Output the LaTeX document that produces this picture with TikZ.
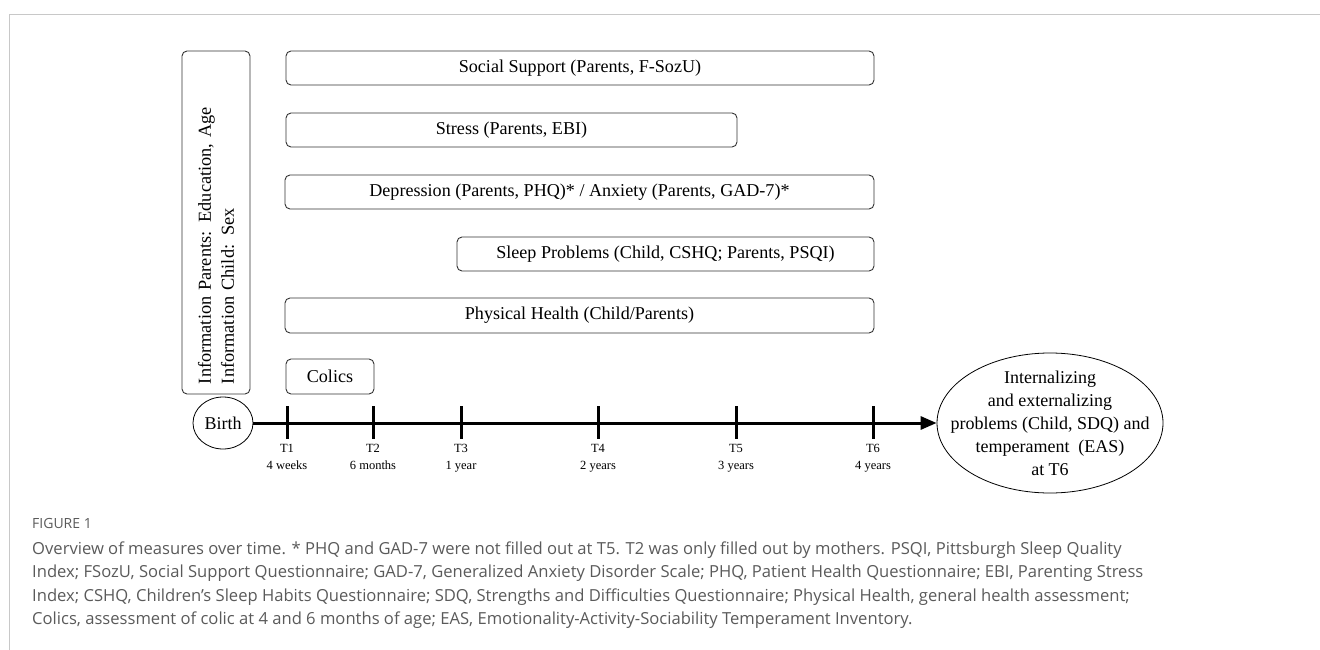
\documentclass[tikz,border=0pt]{standalone}
\usepackage{fontspec}
\setmainfont{Liberation Serif}
\newfontfamily\capfont{Open Sans}
\usetikzlibrary{arrows.meta,shapes.geometric}
\definecolor{framegray}{HTML}{C8C8C8}
\definecolor{capgray}{HTML}{5A5A5A}
\definecolor{boxline}{HTML}{333333}
\begin{document}
\begin{tikzpicture}[x=1pt,y=-1pt,
  measure/.style={draw=boxline,line width=0.9pt,rounded corners=5pt,inner sep=0pt,
     font=\fontsize{18.1}{23}\selectfont},
  timept/.style={ellipse,draw=black,line width=0.8pt,inner sep=-30pt,
     font=\fontsize{18}{23}\selectfont,align=center},
  tick/.style={line width=3pt},
  tlabel/.style={font=\fontsize{12.5}{17}\selectfont,align=center,inner sep=0pt},
  capline/.style={anchor=base west,inner sep=0pt,text=capgray,
     font=\capfont\fontsize{16.6}{18}\selectfont}
]
\useasboundingbox (0,0) rectangle (1320,650);
% frame
\draw[framegray,line width=1.2pt] (9.3,650) -- (9.3,14.3) -- (1320,14.3);

% info box
\node[measure,rotate=90,minimum width=343pt,minimum height=68pt,text width=323pt,
      inner xsep=10pt,align=left,font=\fontsize{18.3}{23}\selectfont] (info) at (216,222.5)
  {Information Parents: Education, Age\\Information Child: Sex};

% measure boxes
\node[measure,minimum width=588pt,minimum height=34pt] (social) at (580,68)
  {Social Support (Parents, F-SozU)};
\node[measure,minimum width=451pt,minimum height=34pt] (stress) at (511.5,130)
  {Stress (Parents, EBI)};
\node[measure,minimum width=589pt,minimum height=34pt] (depr) at (579.5,192)
  {Depression (Parents, PHQ)* / Anxiety (Parents, GAD-7)*};
\node[measure,minimum width=417pt,minimum height=34pt] (sleep) at (665.5,254)
  {Sleep Problems (Child, CSHQ; Parents, PSQI)};
\node[measure,minimum width=589pt,minimum height=35pt] (health) at (579.5,315.5)
  {Physical Health (Child/Parents)};
\node[measure,minimum width=88pt,minimum height=35pt] (colics) at (330,376.5)
  {Colics};

% timeline
\node[timept,minimum width=60pt,minimum height=52pt] (birth) at (223,423) {Birth};
\node[timept,minimum width=226pt,minimum height=140pt] (outcome) at (1050,423)
  {Internalizing\\and externalizing\\problems (Child, SDQ) and\\temperament~~(EAS)\\at T6};
\draw[line width=3pt,-{Triangle[length=16pt,width=13pt]}] (birth) -- (outcome);

\foreach \n/\x/\lab in {1/287/4 weeks,2/373/6 months,3/461/1 year,4/598/2 years,5/736/3 years,6/873/4 years}{
  \coordinate (t\n) at (\x,423);
  \draw[tick] ([yshift=17pt]t\n) -- ([yshift=-16pt]t\n);
  \node[tlabel,anchor=north] (lab\n) at ([yshift=-21pt]t\n) {T\n\\\lab};
}

% caption
\node[capline,font=\capfont\fontsize{14}{16}\selectfont] (fig) at (32,528) {FIGURE 1};
\node[capline] (cap1) at (32,554) {Overview of measures over time. * PHQ and GAD-7 were not filled out at T5. T2 was only filled out by mothers. PSQI, Pittsburgh Sleep Quality};
\node[capline] (cap2) at (32,577.5) {Index; FSozU, Social Support Questionnaire; GAD-7, Generalized Anxiety Disorder Scale; PHQ, Patient Health Questionnaire; EBI, Parenting Stress};
\node[capline] (cap3) at (32,601) {Index; CSHQ, Children’s Sleep Habits Questionnaire; SDQ, Strengths and Difficulties Questionnaire; Physical Health, general health assessment;};
\node[capline] (cap4) at (32,624.5) {Colics, assessment of colic at 4 and 6 months of age; EAS, Emotionality-Activity-Sociability Temperament Inventory.};
\end{tikzpicture}
\end{document}
